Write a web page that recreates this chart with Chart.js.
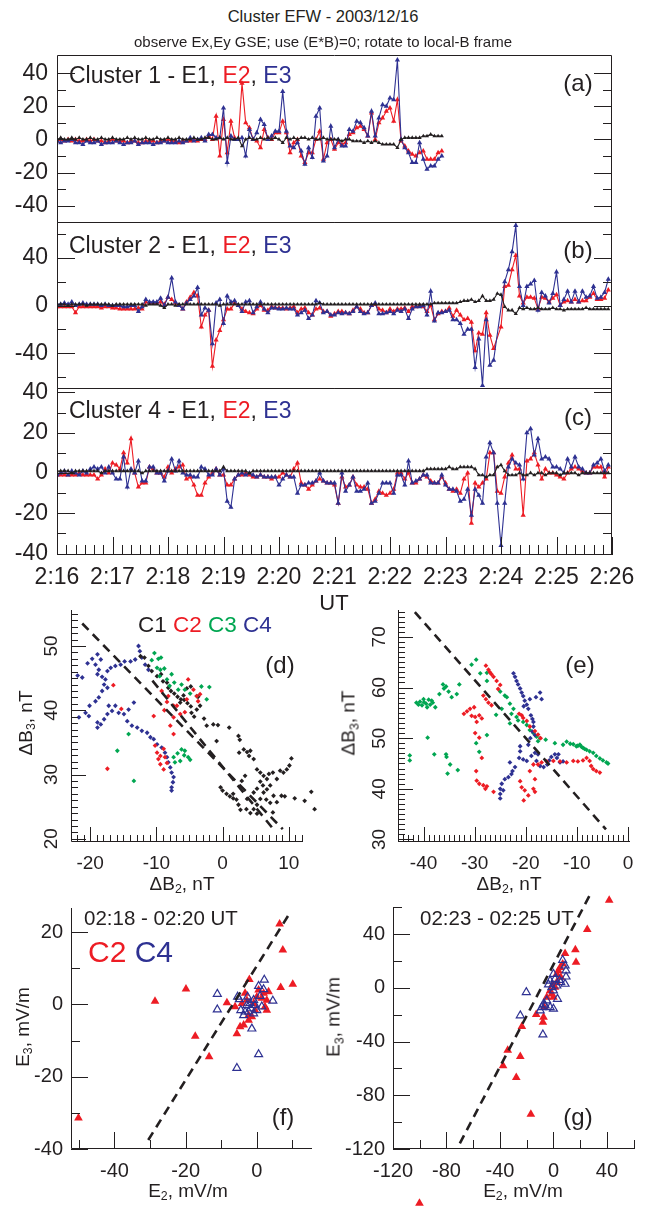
<!DOCTYPE html>
<html>
<head>
<meta charset="utf-8">
<script src="https://cdn.jsdelivr.net/npm/chart.js@4.4.0/dist/chart.umd.min.js"></script>
<style>
body { margin:0; background:#fff; width:646px; height:1207px; position:relative; overflow:hidden;
       font-family:"Liberation Sans", Arial, sans-serif; color:#231f20; }
canvas { position:absolute; }
.t { position:absolute; white-space:nowrap; line-height:1; }
.c { transform:translate(-50%,-50%); }
.l { transform:translateY(-50%); }
.r { transform:translate(-50%,-50%) rotate(-90deg); }
sub { font-size:0.65em; vertical-align:-0.3em; line-height:0; }
.red { color:#ed1c24; } .blue { color:#2e3192; } .green { color:#00a651; }
</style>
</head>
<body>
<canvas id="ca" width="646" height="187" style="left:0;top:40px"></canvas>
<canvas id="cb" width="646" height="181" style="left:0;top:212px"></canvas>
<canvas id="cc" width="646" height="230" style="left:0;top:370px"></canvas>
<canvas id="cd" width="323" height="290" style="left:0;top:590px"></canvas>
<canvas id="ce" width="323" height="290" style="left:323px;top:590px"></canvas>
<canvas id="cf" width="323" height="300" style="left:0;top:880px"></canvas>
<canvas id="cg" width="323" height="327" style="left:323px;top:880px"></canvas>

<div class="t c" style="left:323px;top:16px;font-size:16.5px">Cluster EFW - 2003/12/16</div>
<div class="t c" style="left:323px;top:41px;font-size:15px">observe Ex,Ey GSE; use (E*B)=0; rotate to local-B frame</div>

<div class="t l" style="left:69px;top:75px;font-size:23px">Cluster 1 - E1, <span class="red">E2</span>, <span class="blue">E3</span></div>
<div class="t l" style="left:69px;top:245px;font-size:23px">Cluster 2 - E1, <span class="red">E2</span>, <span class="blue">E3</span></div>
<div class="t l" style="left:69px;top:410px;font-size:23px">Cluster 4 - E1, <span class="red">E2</span>, <span class="blue">E3</span></div>
<div class="t c" style="left:578px;top:83px;font-size:24px">(a)</div>
<div class="t c" style="left:578px;top:250px;font-size:24px">(b)</div>
<div class="t c" style="left:578px;top:417px;font-size:24px">(c)</div>
<div class="t c" style="left:334px;top:603px;font-size:22px">UT</div>

<div class="t l" style="left:138px;top:625px;font-size:22.5px">C1 <span class="red">C2</span> <span class="green">C3</span> <span class="blue">C4</span></div>
<div class="t c" style="left:280px;top:665px;font-size:24px">(d)</div>
<div class="t c" style="left:580px;top:665px;font-size:24px">(e)</div>
<div class="t r" style="left:25px;top:723px;font-size:19px">&Delta;B<sub>3</sub>, nT</div>
<div class="t r" style="left:348px;top:723px;font-size:19px">&Delta;B<sub>3</sub>, nT</div>
<div class="t c" style="left:182px;top:883px;font-size:19px">&Delta;B<sub>2</sub>, nT</div>
<div class="t c" style="left:509px;top:883px;font-size:19px">&Delta;B<sub>2</sub>, nT</div>

<div class="t l" style="left:84px;top:918px;font-size:20.5px">02:18 - 02:20 UT</div>
<div class="t l" style="left:88px;top:952px;font-size:30px"><span class="red">C2</span> <span class="blue">C4</span></div>
<div class="t l" style="left:420px;top:918px;font-size:20.5px">02:23 - 02:25 UT</div>
<div class="t c" style="left:283px;top:1117px;font-size:24px">(f)</div>
<div class="t c" style="left:578px;top:1117px;font-size:24px">(g)</div>
<div class="t r" style="left:22px;top:1027px;font-size:19px">E<sub>3</sub>, mV/m</div>
<div class="t r" style="left:333px;top:1017px;font-size:19px">E<sub>3</sub>, mV/m</div>
<div class="t c" style="left:188px;top:1190px;font-size:19px">E<sub>2</sub>, mV/m</div>
<div class="t c" style="left:523px;top:1190px;font-size:19px">E<sub>2</sub>, mV/m</div>

<script>
const ink = '#231f20', red = '#ed1c24', blue = '#2e3192', green = '#00a651';

// spin-resolution samples, 4 s apart from 02:16:00
const cadence = 4;
const timeTicks = [0, 60, 120, 180, 240, 300, 360, 420, 480, 540, 600];
const timeLabels = ['2:16', '2:17', '2:18', '2:19', '2:20', '2:21', '2:22', '2:23', '2:24', '2:25', '2:26'];

// Cluster 1 (data stop near 02:23)
const c1E1 = [0,1,0,0,1,0,1,0,0,1, 0,0,1,0,0,1,0,0,0,1, 0,1,0,0,1,0,0,1,0,0, 1,0,0,1,0,0,0,1,0,0, 1,
  1,0,0,1,0,1,0,0,1,-4, 0,1,0,0,1,0,1,0,1,0, -2,1,0,1,0,1,1,0,1,0, 0,1,0,0,0,0,-1,0,0,-1,
  -1,-1,-2,-1,-2,-1,-2,-3,-3,-3,-3,-5,0,1,1,1,1,1,2,2,3,2,2,2];
const c1E2 = [-1,0,-1,0,-1,0,-1,-1,0,-1, 0,-1,-1,-2,-1,0,-1,-1,-1,-2, -1,-1,-2,-2,-1,-1,-1,-2,-1,-1, 0,-1,-1,-2,-1,-1,-1,0,-1,0, 0,
  2,0,14,-10,12,-8,11,1,0,34, 10,7,0,-1,-5,6,1,0,4,4, 11,4,-8,-2,0,-10,-14,-8,-8,0,
  5,-12,-2,0,-6,-2,-3,-2,3,4, 7,8,6,2,16,0,10,13,17,19, 11,24,-1,-4,-7,-9,-10,-8,-7,-12, -12,-12,-8,-7];
const c1E3 = [-1,-2,-1,-1,0,-2,-2,-3,-1,-2, -2,-1,-3,-2,-2,-2,-1,-2,-3,-2, -2,-1,-3,-2,-2,-2,-3,-2,-2,-1, -2,-2,-2,-1,-2,-1,1,-1,0,1, -1,
  3,3,1,1,19,-14,2,0,0,1, -10,6,0,4,12,9,0,2,5,5, 29,5,-4,-5,-2,-7,-15,-5,-11,14,
  19,-13,-10,8,-5,0,-4,-4,6,5, 11,10,7,2,17,2,13,21,20,25, 24,48,0,-5,-8,-14,-14,-2,-12,-18, -16,-16,-12,-10];

// Cluster 2
const c2E1 = [1,1,1,0,1,1,1,1,0,1, 1,1,1,1,1,0,1,1,1,1, 1,1,1,1,0,1,1,1,0,-2, 1,1,0,1,1,1,1,1,1,1,
  1,1,1,1,0,1,1,1,1,1, 1,1,1,1,1,1,1,1,1,1, 1,1,1,1,1,1,1,1,1,1, 1,2,1,1,1,1,1,1,1,1,
  1,1,1,1,1,1,1,1,1,1, 1,1,1,1,1,1,1,1,1,1, 1,1,2,2,2,2,2,2,2,3, 4,4,5,3,4,8,4,4,5,10,
  9,-1,-4,-4,-7,-2,-3,-2,-3,-3, -2,-3,-3,-3,-2,-3,-3,-4,-3,-3, -3,-3,-3,-2,-3,-3,-3,-3,-3,-3];
const c2E2 = [-1,-1,-1,-1,-1,-6,-1,-1,-1,-1, -1,-1,-2,-1,-1,-2,-2,-3,-3,-3, -3,-3,-2,-3,3,2,2,2,3,1,
  7,5,2,0,-3,3,7,11,8,-18, -8,-4,-51,-29,-21,-12,-3,-3,2,0, -3,-5,-6,-7,-3,0,-4,-4,-1,-2,
  -2,-2,-3,-2,-1,-6,-3,-2,-6,-8, -3,-2,-5,-5,-9,-7,-5,-5,-6,-7, -4,-1,-3,-6,-6,0,1,-3,-4,-6,
  -3,-5,-3,-3,-2,-5,-1,-1,0,-1, -5,0,-12,-7,-5,-5,-2,-9,-4,-8, -12,-11,-14,-38,-23,-24,-6,-25,-36,null,
  -18,16,17,30,42,8,2,7,7,6, -3,7,6,3,6,9,0,3,4,3, 5,3,4,4,7,10,5,5,6,13];
const c2E3 = [1,1,2,1,3,0,1,2,1,1, 1,1,0,1,0,0,0,0,-1,-1, 0,0,-5,-1,5,3,3,3,6,0,
  7,23,3,0,-3,2,5,8,15,-8, -2,-4,-32,2,5,-15,8,3,4,0, -5,3,4,-6,-1,3,-3,-6,-2,-2,
  -3,-3,-2,-3,-3,-8,-6,-4,-11,-8, 4,2,-6,-5,-8,-8,-6,-7,-6,-7, -5,-1,-5,-7,-6,0,2,-7,-7,-6,
  -5,-7,-4,-5,-3,-11,-3,-1,-1,0, -8,12,-13,-6,-6,-5,-4,-12,-12,-15, -24,-20,-20,-52,-28,-67,-12,-50,-46,null,
  null,20,30,45,67,16,0,16,18,21, -4,11,8,2,10,28,0,5,12,3, 12,3,12,7,8,16,6,7,11,22];

// Cluster 4
const c4E1 = [1,1,1,1,0,1,1,1,1,1, 1,1,0,1,1,1,1,1,1,1, 1,1,1,0,1,1,1,1,1,1, 1,1,1,1,1,1,1,1,1,1,
  1,1,1,1,1,3,1,1,1,1, 1,1,0,1,1,1,1,1,1,1, 1,1,1,1,1,1,1,1,1,1, 1,1,1,1,1,1,1,1,1,1,
  1,1,1,1,1,1,1,1,1,1, 1,1,1,1,1,1,1,1,1,1, 2,2,2,2,2,2,3,2,2,3, 3,3,3,2,-1,-1,-2,-1,-1,3,
  4,1,-1,-1,-1,0,-1,-1,0,-1, 0,0,-1,0,0,0,-1,0,0,0, 0,-1,0,0,0,0,0,0,0,0];
const c4E2 = [-1,-1,-1,-1,-1,-1,0,-1,-1,-1, -1,-3,-1,2,0,5,4,2,10,5, 17,0,-7,-5,-5,3,2,0,0,-2,
  3,0,2,3,4,-3,-2,-6,-11,-11, -5,-2,0,2,-1,-1,-6,-6,-3,-1, -1,0,-1,-2,-2,-1,-2,-2,-3,-2,
  -2,0,-1,-2,2,5,-5,-6,-8,-6, -4,-3,-4,-5,-5,-6,-15,-2,-7,-6, -2,-6,-7,-7,-8,-15,-13,-9,-10,-11,
  -10,-8,0,0,-3,0,-5,-5,-3,-1, -2,-4,-5,-5,-2,-5,-8,-9,-8,-10, -3,0,-25,-5,-7,-5,-3,10,10,-9,
  -10,-2,5,9,2,2,-21,6,7,10, 4,-3,2,0,0,-1,-2,-3,0,2, 3,2,1,0,0,3,3,3,-2,3];
const c4E3 = [-1,0,1,-1,1,0,-1,1,0,2, 3,2,3,0,3,0,-3,-3,8,-7, 2,0,6,-4,-4,3,3,0,0,-4,
  1,7,1,6,0,-1,-1,-2,-2,3, 2,-1,-1,2,-1,2,-14,-17,-3,-1, 0,-1,0,-1,-2,-1,-2,-2,-2,-2,
  -6,-3,-1,-2,-2,-10,-6,-6,-5,-5, -4,0,-4,-5,-5,-5,-15,0,-9,-6, -2,-9,-9,-8,-5,-15,-14,-10,-5,-5,
  -5,-10,-1,-1,-6,6,-5,-4,-3,-1, -1,-5,-5,-5,-1,-6,-8,-8,-9,-14, -13,-8,-21,-8,-11,-15,8,15,10,-15,
  -36,-15,3,7,5,4,-3,20,22,9, 17,7,8,7,3,3,2,0,7,3, 8,3,2,0,0,4,5,7,1,4];

// (d) dB3 vs dB2 [nT]
const dC1 = [[-12.4,48.4],[-11.8,48.2],[-11.2,46.9],[-10.7,46.1],[-9.9,45.3],[-9.3,45.6],[-9.0,44.5],[-8.4,44.3],[-8.2,43.5],[-7.8,43.0],
  [-7.3,42.6],[-6.8,42.1],[-6.3,41.7],[-5.8,41.6],[-5.3,41.1],[-4.8,40.6],[-4.7,39.6],[-4.3,39.0],[-3.9,40.1],[-3.4,40.7],
  [-3.7,42.1],[-4.8,43.7],[-5.4,43.4],[-5.9,42.3],[-6.4,41.2],[-2.8,38.7],[-2.4,37.6],[-1.4,37.8],[-0.7,37.7],[1.0,37.3],
  [-0.9,35.2],[2.4,36.0],[2.6,35.4],[2.5,33.4],[3.2,33.9],[3.7,33.5],[4.2,33.7],[4.0,32.9],[4.7,32.4],[5.2,30.8],
  [5.7,30.3],[6.2,29.8],[6.7,29.3],[7.0,30.1],[7.6,30.3],[8.2,29.3],[8.7,30.6],[9.2,30.3],[9.7,30.8],[10.1,31.4],
  [10.4,32.5],[-0.3,28.0],[0.0,27.5],[0.6,27.0],[1.1,26.6],[1.6,26.3],[2.1,26.1],[2.4,25.3],[2.7,24.5],[3.6,24.6],
  [4.2,24.0],[4.7,24.6],[5.2,25.3],[5.7,26.2],[6.2,27.2],[6.7,27.7],[7.2,28.3],[7.7,26.7],[8.2,25.7],[8.9,26.7],
  [9.4,26.6],[10.9,26.3],[12.4,25.9],[13.4,27.3],[13.9,24.6],[4.7,27.2],[5.2,27.8],[5.7,28.9],[3.4,29.8],[2.9,29.0],
  [6.6,26.1],[7.2,25.6],[7.6,24.1],[5.2,23.9],[1.6,27.0],[3.7,26.2],[6.1,28.3]];
const dC2 = [[-16.5,43.9],[-15.3,40.2],[-17.4,30.9],[-10.4,39.1],[-10.2,34.5],[-9.9,33.4],[-9.4,32.9],[-8.9,34.0],[-8.7,32.7],[-9.4,31.6],
  [-8.9,30.8],[-8.4,31.8],[-9.7,32.4],[-9.2,43.0],[-8.8,40.0],[-8.4,41.3],[-7.4,40.7],[-7.4,38.9],[-7.9,37.6],[-7.4,36.3],
  [-6.4,39.4],[-5.7,39.7],[-5.4,41.7],[-5.2,44.8],[-4.4,43.2],[-3.9,42.2],[-3.4,42.5],[-3.7,41.4],[-6.9,40.7],[-8.2,42.2]];
const dC3 = [[-10.3,48.9],[-9.7,48.0],[-10.7,47.8],[-9.3,48.2],[-9.9,46.6],[-9.4,46.3],[-8.8,46.5],[-9.5,45.3],[-8.4,44.8],[-7.7,45.6],
  [-8.0,43.8],[-7.3,44.3],[-6.7,43.2],[-6.2,44.0],[-5.7,43.2],[-4.9,42.6],[-3.9,42.2],[-2.4,41.7],[-2.0,43.6],[-3.2,43.7],
  [-15.9,33.7],[-14.2,36.3],[-13.4,29.0],[-7.4,32.7],[-6.8,33.3],[-6.2,33.9],[-5.8,33.0],[-5.2,32.7],[-4.9,32.3],[-6.4,32.1],
  [-7.2,31.9],[-5.7,33.7]];
const dC4 = [[-21.9,45.4],[-21.2,45.1],[-20.4,47.3],[-19.7,48.0],[-18.9,48.7],[-18.4,47.9],[-19.2,47.1],[-18.7,46.3],[-18.9,45.6],[-18.2,45.2],
  [-17.4,46.1],[-16.9,46.6],[-16.2,46.9],[-15.4,47.1],[-14.8,47.6],[-13.9,47.6],[-13.2,47.9],[-12.5,49.2],[-12.7,50.0],[-12.2,48.2],
  [-11.7,47.1],[-11.2,46.3],[-17.7,44.8],[-17.9,44.0],[-17.4,43.5],[-18.2,43.0],[-18.7,42.0],[-19.2,41.4],[-20.1,40.7],[-20.7,39.6],
  [-21.7,38.9],[-20.2,39.1],[-18.9,38.1],[-18.9,37.3],[-18.4,37.8],[-17.9,38.6],[-17.4,39.4],[-17.2,40.7],[-16.7,39.9],[-16.2,40.7],
  [-15.7,39.6],[-14.9,39.4],[-14.2,40.1],[-13.4,41.2],[-14.4,38.3],[-13.7,37.6],[-12.9,37.3],[-12.2,36.8],[-11.4,36.5],[-10.9,35.8],
  [-10.4,35.5],[-9.9,34.7],[-9.2,34.2],[-8.7,33.4],[-8.4,32.7],[-8.2,31.9],[-7.9,31.1],[-7.7,30.3],[-7.4,29.6],[-7.5,28.8],
  [-7.7,28.0],[-7.7,27.5]];
const dFit1 = [[-21.2,53.5],[9.1,21.5]];
const dFit2 = [[-10.6,44.6],[7.6,21.6]];

// (e) dB3 vs dB2 [nT]
const eC2 = [[-27.8,64.3],[-27.3,63.5],[-27.0,63.0],[-26.7,62.6],[-26.3,62.1],[-25.7,61.3],[-25.0,60.5],[-25.4,59.7],[-28.3,58.4],[-27.8,57.7],
  [-27.3,57.0],[-26.7,56.5],[-32.1,54.8],[-31.5,55.3],[-30.9,55.8],[-30.1,56.1],[-30.6,54.4],[-29.9,54.2],[-29.1,54.5],[-28.6,53.9],
  [-29.6,53.2],[-29.9,51.0],[-29.1,50.1],[-29.7,43.5],[-29.6,41.6],[-29.1,41.0],[-28.3,40.7],[-27.6,40.5],[-27.9,40.0],[-26.3,39.4],
  [-28.6,46.1],[-21.3,54.8],[-20.8,54.5],[-20.5,54.0],[-19.8,53.4],[-19.2,52.3],[-18.2,51.4],[-17.6,50.7],[-17.1,50.0],[-21.1,41.5],
  [-20.8,40.3],[-20.2,39.7],[-19.5,38.7],[-20.4,37.7],[-18.5,40.0],[-18.2,39.4],[-18.2,41.9],[-19.2,43.5],[-18.5,44.8],[-17.6,44.8],
  [-16.9,45.2],[-15.9,45.4],[-14.6,45.5],[-13.3,45.4],[-12.0,45.2],[-10.7,45.5],[-9.8,45.4],[-8.8,45.6],[-8.1,46.1],[-7.5,45.5],
  [-7.2,44.5],[-6.8,43.9],[-6.2,43.5],[-5.5,43.2]];
const eC3 = [[-41.4,57.0],[-41.0,56.6],[-40.7,57.2],[-40.3,56.5],[-39.9,57.1],[-39.5,56.8],[-39.0,57.6],[-38.7,56.6],[-38.2,57.0],[-37.7,56.1],
  [-40.0,57.7],[-39.3,56.1],[-38.4,57.4],[-42.7,46.6],[-42.7,45.6],[-39.2,50.1],[-37.9,46.8],[-35.6,46.8],[-35.5,46.3],[-34.8,44.8],
  [-35.3,43.0],[-33.3,43.7],[-36.2,60.6],[-36.0,59.8],[-35.6,60.2],[-35.1,59.2],[-34.5,58.1],[-33.5,58.7],[-33.0,60.6],[-36.9,58.7],
  [-30.6,64.5],[-29.7,65.5],[-28.9,62.8],[-27.6,61.3],[-27.6,62.9],[-25.0,59.2],[-25.8,54.6],[-24.7,55.8],[-24.1,58.4],[-23.7,58.1],
  [-23.1,56.8],[-22.4,55.8],[-22.8,54.8],[-21.8,54.2],[-21.5,53.5],[-23.1,52.9],[-20.5,53.2],[-19.8,52.6],[-19.2,51.6],[-18.5,51.0],
  [-17.9,50.3],[-17.2,50.0],[-16.1,49.7],[-14.3,49.0],[-12.7,48.7],[-10.7,48.8],[-10.1,48.4],[-9.4,48.7],[-8.8,48.1],[-8.1,47.7],
  [-7.5,47.4],[-6.8,47.1],[-6.2,46.5],[-5.5,46.0],[-4.9,45.6],[-4.2,45.2],[-3.9,45.0],[-17.6,49.4],[-29.7,49.0],[-29.1,47.3],
  [-27.6,50.6],[-9.8,48.5],[-9.1,48.3],[-8.5,47.9],[-11.3,48.9],[-12.0,49.3]];
const eC4 = [[-22.4,62.8],[-22.1,62.1],[-21.8,61.3],[-21.5,60.6],[-21.1,59.8],[-20.8,59.0],[-20.5,58.3],[-20.2,57.4],[-19.8,56.6],[-19.5,55.8],
  [-20.4,56.3],[-19.2,57.7],[-18.0,58.1],[-17.2,59.0],[-16.9,57.7],[-19.0,54.5],[-18.7,53.8],[-18.5,53.2],[-18.5,52.3],[-18.7,51.3],
  [-18.2,50.6],[-19.1,50.0],[-19.5,48.7],[-21.1,48.4],[-21.1,47.4],[-21.3,46.1],[-20.5,45.8],[-19.8,45.5],[-18.9,46.5],[-18.2,47.1],
  [-17.6,46.8],[-17.9,45.5],[-17.2,44.5],[-16.5,44.3],[-15.8,44.8],[-15.4,45.6],[-15.0,46.3],[-14.3,46.8],[-13.9,46.1],[-13.3,45.2],
  [-12.7,45.4],[-13.6,46.8],[-23.1,45.2],[-22.8,42.9],[-23.4,42.3],[-24.1,41.9],[-24.7,41.0],[-25.0,40.0],[-24.4,39.7],[-25.0,39.0],
  [-25.0,38.1],[-22.6,43.5],[-22.1,44.3]];
const eFit = [[-41.7,74.9],[-4.3,32.0]];

// (f) E3 vs E2 [mV/m], 02:18-02:20
const fC2 = [[6.4,22.3],[7.3,15.1],[6.7,4.7],[10.1,5.6],[-19.9,4.3],[-28.6,0.9],[-17.3,-8.8],[-13.4,-14.5],[-50.1,-31.4],[-2.1,6.9],
  [-8.4,0.5],[-6.1,-0.6],[-5.6,-8.1],[-4.7,-6.2],[-3.7,-5.7],[-3.3,3.1],[-2.3,-4.4],[-1.4,-3.4],[0,2.1],[0.5,4.0],
  [1.9,3.1],[2.8,1.2],[3.3,3.5],[2.3,-0.6],[2.8,-1.6],[-0.9,0.3],[-2.8,1.2],[-4.2,0.3],[-0.5,-1.6],[1.4,1.7],[-2.3,-3.0]];
const fC4 = [[-11.1,2.9],[-11.1,-1.4],[-5.4,2.1],[-4.9,1.4],[-4.5,-1.6],[-3.7,-3.0],[-2.8,-0.2],[-2.3,-2.0],[-1.9,0.3],[-1.7,-1.1],
  [-1.4,-6.7],[-0.9,1.2],[-0.5,-0.2],[0,-1.6],[0.5,5.1],[0.9,2.3],[1.9,4.2],[2.1,6.8],[1.4,-0.6],[4.5,1.0],
  [0.5,-13.8],[-5.6,-17.6],[-3.3,-2.0],[-0.9,-2.5],[-2.6,2.1]];
const fFit = [[-30.5,-37.5],[9.2,25.2]];

// (g) E3 vs E2 [mV/m], 02:23-02:25
const gC2 = [[41.7,65.3],[25.3,43.6],[16.4,28.5],[16.9,19.1],[8.7,25.7],[6.9,17.8],[3.7,12.9],[5.5,7.9],[2.5,4.2],[1.2,0.5],
  [-1.2,-4.5],[-2.5,-2.0],[-5.0,-6.9],[-6.9,-14.4],[-7.4,-21.8],[-7.9,-25.5],[-12.9,-19.8],[-23.6,-28.7],[-34.2,-46.5],[-37.7,-57.9],
  [-24.8,-51.0],[-27.8,-66.8],[-16.9,-94.1],[-100.2,-160.4],[-0.5,2.5],[2.5,10.4],[5.0,15.3],[0,-6.9]];
const gC4 = [[6.9,20.8],[8.7,16.6],[9.4,12.9],[9.4,8.4],[8.7,3.0],[3.0,-8.2],[0,10.4],[1.2,6.7],[-2.5,5.4],[-3.7,2.5],
  [-1.2,0.5],[0,-2.0],[2.5,1.7],[-5.0,-9.4],[-7.4,-11.9],[-8.7,-14.4],[-6.2,-13.1],[-2.5,-14.4],[0,-15.6],[-9.9,-16.8],
  [-7.9,-34.7],[-20.3,-3.2],[-24.8,-20.5],[4.5,5.9],[5.5,4.2]];
const gFit = [[-70,-115.8],[28.9,72.4]];

// labelled tick values
const aTicks = [40, 20, 0, -20, -40];
const bTicks = [40, 0, -40];
const cTicks = [40, 20, 0, -20, -40];
const dxTicks = [-20, -10, 0, 10], dyTicks = [20, 30, 40, 50];
const exTicks = [-40, -30, -20, -10, 0], eyTicks = [30, 40, 50, 60, 70];
const fxTicks = [-40, -20, 0], fyTicks = [-40, -20, 0, 20];
const gxTicks = [-120, -80, -40, 0, 40], gyTicks = [-120, -80, -40, 0, 40];

Chart.defaults.font.family = "'Liberation Sans', Arial, sans-serif";
Chart.defaults.color = ink;
Chart.defaults.animation = false;
Chart.defaults.plugins.legend.display = false;
Chart.defaults.plugins.tooltip.enabled = false;

// axis lines plus inward tick marks (IDL style)
const axisMarks = {
  id: 'axisMarks',
  afterDraw(chart, args, o) {
    const { ctx, chartArea: a } = chart;
    ctx.save();
    ctx.strokeStyle = ink;
    ctx.lineWidth = 1;
    ctx.beginPath();
    if (o.box) {
      ctx.rect(a.left + 0.5, a.top + 0.5, a.right - a.left - 1, a.bottom - a.top - 1);
    } else {
      ctx.moveTo(a.left + 0.5, a.top);
      ctx.lineTo(a.left + 0.5, a.bottom - 0.5);
      ctx.lineTo(a.right, a.bottom - 0.5);
    }
    ctx.stroke();
    (o.marks || []).forEach(m => {
      const s = chart.scales[m.axis];
      const n = Math.round((m.to - m.from) / m.step);
      ctx.beginPath();
      for (let i = 0; i <= n; i++) {
        const v = m.from + i * m.step;
        const r = v / m.major;
        const len = Math.abs(r - Math.round(r)) < 1e-6 ? m.long : m.short;
        const p = Math.round(s.getPixelForValue(v)) + 0.5;
        if (m.axis === 'x') {
          ctx.moveTo(p, a.bottom); ctx.lineTo(p, a.bottom - len);
        } else {
          ctx.moveTo(a.left, p); ctx.lineTo(a.left + len, p);
          if (m.mirror) { ctx.moveTo(a.right, p); ctx.lineTo(a.right - len, p); }
        }
      }
      ctx.stroke();
    });
    ctx.restore();
  }
};
Chart.register(axisMarks);

// scatter marks may sit outside the axes (points are otherwise culled to the chart area)
const looseArea = {
  id: 'looseArea',
  beforeDatasetsDraw(chart) {
    chart.$area = chart.chartArea;
    chart.chartArea = { left: 0, top: 0, right: chart.width, bottom: chart.height, width: chart.width, height: chart.height };
  },
  afterDatasetsDraw(chart) {
    chart.chartArea = chart.$area;
  }
};

const noGrid = { display: false, drawTicks: false };
const noBorder = { display: false };
const setTicks = vals => s => { s.ticks = vals.map(v => ({ value: v })); };
const fixW = w => s => { s.width = w; s.paddingTop = 0; s.paddingBottom = 0; };
const fixH = h => s => { s.height = h; s.paddingLeft = 0; s.paddingRight = 0; };

function pts(vals) { return vals.map((v, i) => ({ x: i * cadence, y: v })); }
function tsSet(vals, color, r) {
  return { data: pts(vals), borderColor: color, backgroundColor: color, borderWidth: 1.1,
           pointStyle: 'triangle', pointRadius: r, pointBorderWidth: 0, spanGaps: true };
}

function timePanel(id, e1, e2, e3, y, pad, showTime) {
  const x = { type: 'linear', min: 0, max: 600, display: showTime, grid: noGrid, border: noBorder };
  if (showTime) {
    Object.assign(x, {
      afterBuildTicks: setTicks(timeTicks),
      ticks: { font: { size: 23 }, padding: 9, maxRotation: 0, autoSkip: false,
               callback: (v, i) => timeLabels[i] },
      afterFit: fixH(45)
    });
  }
  new Chart(document.getElementById(id), {
    type: 'line',
    data: { datasets: [tsSet(e1, ink, 2.4), tsSet(e3, blue, 3), tsSet(e2, red, 3)] },
    options: {
      responsive: false, devicePixelRatio: 1,
      layout: { padding: pad },
      scales: {
        x,
        y: { min: y.min, max: y.max, grid: noGrid, border: noBorder,
             afterBuildTicks: setTicks(y.labels),
             ticks: { font: { size: 23 }, padding: 9, callback: v => String(v) },
             afterFit: fixW(57) }
      },
      plugins: { axisMarks: { box: true, marks: [
        { axis: 'y', from: y.from, to: y.to, step: y.step, major: y.major, long: 18, short: 9, mirror: true },
        ...(showTime ? [{ axis: 'x', from: 0, to: 600, step: 10, major: 60, long: 18, short: 10 }] : [])
      ] } }
    }
  });
}

timePanel('ca', c1E1, c1E2, c1E3,
  { min: -50.5, max: 51, labels: aTicks, from: -40, to: 40, step: 10, major: 20 },
  { top: 15, right: 34, bottom: 4, left: 0 }, false);
timePanel('cb', c2E1, c2E2, c2E3,
  { min: -70, max: 70, labels: bTicks, from: -60, to: 60, step: 20, major: 40 },
  { top: 10, right: 34, bottom: 4, left: 0 }, false);
timePanel('cc', c4E1, c4E2, c4E3,
  { min: -40.7, max: 42.2, labels: cTicks, from: -40, to: 40, step: 10, major: 20 },
  { top: 18, right: 34, bottom: 0, left: 0 }, true);

function xy(list) { return list.map(p => ({ x: p[0], y: p[1] })); }
function dots(list, color) {
  return { type: 'scatter', data: xy(list), backgroundColor: color, borderColor: color,
           pointStyle: 'rectRot', pointRadius: 2.4, borderWidth: 0, clip: false };
}
function tri(list, color, open) {
  return { type: 'scatter', data: xy(list), pointStyle: 'triangle',
           backgroundColor: open ? 'rgba(0,0,0,0)' : color, borderColor: color,
           pointRadius: open ? 4.6 : 5, borderWidth: open ? 1.2 : 0, clip: false };
}
function fit(list) {
  return { type: 'line', data: xy(list), borderColor: ink, borderWidth: 2.6, borderDash: [9, 6],
           pointRadius: 0, clip: false };
}

function xyPanel(id, sets, sc, pad, small) {
  const f = small ? 19 : 20;
  new Chart(document.getElementById(id), {
    type: 'scatter',
    data: { datasets: sets },
    plugins: [looseArea],
    options: {
      responsive: false, devicePixelRatio: 1,
      layout: { padding: pad },
      scales: {
        x: { min: sc.x[0], max: sc.x[1], grid: noGrid, border: noBorder,
             afterBuildTicks: setTicks(sc.xt),
             ticks: { font: { size: f }, padding: 10, maxRotation: 0, callback: v => String(v) },
             afterFit: fixH(sc.xh) },
        y: { min: sc.y[0], max: sc.y[1], grid: noGrid, border: noBorder,
             afterBuildTicks: setTicks(sc.yt),
             ticks: small
               ? { font: { size: f }, padding: sc.yp, minRotation: 90, maxRotation: 90, crossAlign: 'center', callback: v => String(v) }
               : { font: { size: f }, padding: sc.yp, callback: v => String(v) },
             afterFit: fixW(sc.yw) }
      },
      plugins: { axisMarks: { box: false, marks: sc.marks } }
    }
  });
}

xyPanel('cd', [fit(dFit1), fit(dFit2), dots(dC2, red), dots(dC3, green), dots(dC1, ink), dots(dC4, blue)], {
  x: [-22.9, 12], y: [19.5, 55.6], xt: dxTicks, yt: dyTicks, xh: 38, yw: 71, yp: 9,
  marks: [{ axis: 'x', from: -22, to: 12, step: 1, major: 10, long: 15, short: 7 },
          { axis: 'y', from: 20, to: 55, step: 1, major: 10, long: 15, short: 7 }]
}, { top: 20, right: 21, bottom: 0, left: 0 }, true);

xyPanel('ce', [fit(eFit), dots(eC2, red), dots(eC4, blue), dots(eC3, green)], {
  x: [-45, 0.4], y: [29.5, 75.3], xt: exTicks, yt: eyTicks, xh: 38, yw: 75, yp: 8,
  marks: [{ axis: 'x', from: -45, to: 0, step: 1, major: 10, long: 15, short: 7 },
          { axis: 'y', from: 30, to: 75, step: 1, major: 10, long: 15, short: 7 }]
}, { top: 20, right: 16, bottom: 0, left: 0 }, true);

xyPanel('cf', [fit(fFit), tri(fC4, blue, true), tri(fC2, red, false)], {
  x: [-52.2, 15.5], y: [-40, 26.7], xt: fxTicks, yt: fyTicks, xh: 31, yw: 71, yp: 8,
  marks: [{ axis: 'x', from: -50, to: 10, step: 10, major: 20, long: 17, short: 9 },
          { axis: 'y', from: -40, to: 20, step: 10, major: 20, long: 17, short: 9 }]
}, { top: 28, right: 11, bottom: 0, left: 0 }, false);

xyPanel('cg', [fit(gFit), tri(gC4, blue, true), tri(gC2, red, false)], {
  x: [-120, 61], y: [-120, 59.6], xt: gxTicks, yt: gyTicks, xh: 58, yw: 70, yp: 8,
  marks: [{ axis: 'x', from: -120, to: 60, step: 20, major: 40, long: 17, short: 9 },
          { axis: 'y', from: -120, to: 60, step: 20, major: 40, long: 17, short: 9 }]
}, { top: 28, right: 11, bottom: 0, left: 0 }, false);
</script>
</body>
</html>
